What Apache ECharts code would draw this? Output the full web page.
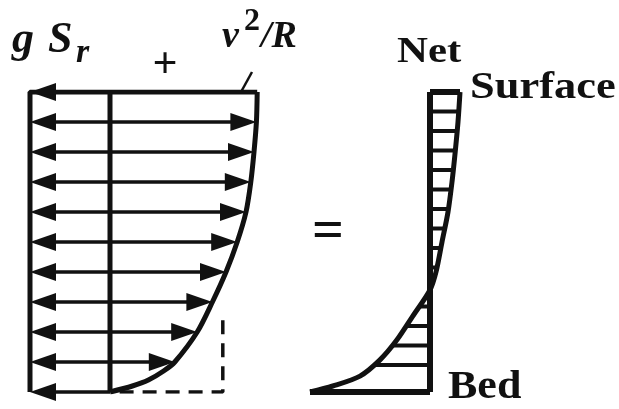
<!DOCTYPE html>
<html><head><meta charset="utf-8">
<script src="https://cdn.jsdelivr.net/npm/echarts@6/dist/echarts.min.js"></script>
<style>html,body{margin:0;padding:0;background:#fff}#c{width:619px;height:409px}</style>
</head><body><div id="c"></div>
<script>
// Height above bed: 0 = bed, 1 = surface
const rowHeights = [0, 0.1, 0.2, 0.3, 0.4, 0.5, 0.6, 0.7, 0.8, 0.9, 1.0];
// pressure-gradient term g*S_r (uniform with depth, points outward/left)
const gSr = [1, 1, 1, 1, 1, 1, 1, 1, 1, 1, 1];
// centrifugal term v^2/R profile (units of g*S_r)
const v2RHeights = [0, 0.02, 0.04, 0.07, 0.1, 0.2, 0.3, 0.4, 0.5, 0.6, 0.7, 0.8, 0.9, 1.0];
const v2R = [0, 0.28, 0.48, 0.67, 0.81, 1.09, 1.28, 1.45, 1.59, 1.70, 1.76, 1.80, 1.83, 1.84];
// depth-averaged (dashed) box
const dashedValue = 1.41;
const dashedTop = 0.26;
const dashedStart = 0.12;
// Net = v^2/R - g S_r profile
const netHeights = [0, 0.02, 0.053, 0.107, 0.173, 0.253, 0.34, 0.4, 0.5, 0.6, 0.7, 0.8, 0.9, 1.0];
const net = [-3.0, -2.43, -1.75, -1.25, -0.83, -0.43, 0, 0.15, 0.30, 0.45, 0.55, 0.63, 0.70, 0.75];
// hatch lines inside the net profile
const hatchHeights = [1.0, 0.935, 0.87, 0.805, 0.74, 0.675, 0.61, 0.545, 0.48, 0.415, 0.35, 0.285, 0.22, 0.155, 0.09, 0];
const hatchNet = [0.75, 0.72, 0.68, 0.63, 0.58, 0.53, 0.46, 0.37, 0.27, 0.15, 0, -0.27, -0.6, -0.95, -1.4, -3.0];

const INK = '#111';
const SERIF = '"Liberation Serif", "DejaVu Serif", serif';

const leftArrows = rowHeights.map((h, i) => [-gSr[i], h]);
const rightArrows = rowHeights
  .filter(h => h > 0 && h < 1)
  .map(h => [v2R[v2RHeights.indexOf(h)], h]);

function arrowItem(params, api) {
  const h = api.value(1), xv = api.value(0);
  const p0 = api.coord([0, h]), p1 = api.coord([xv, h]);
  const dir = Math.sign(p1[0] - p0[0]);
  const L = 26, W = 9;
  const base = p1[0] - dir * L;
  return {
    type: 'group', children: [
      { type: 'line', shape: { x1: p0[0], y1: p0[1], x2: base + dir * 2, y2: p1[1] }, style: { stroke: INK, lineWidth: 3.5 } },
      { type: 'polygon', shape: { points: [[p1[0], p1[1]], [base, p1[1] - W], [base, p1[1] + W]] }, style: { fill: INK } }
    ]
  };
}
function hatchItem(params, api) {
  const h = api.value(1), xv = api.value(0);
  const p0 = api.coord([0, h]), p1 = api.coord([xv, h]);
  const lw = (h === 1 || h === 0) ? 6 : 4;
  return { type: 'line', shape: { x1: p0[0], y1: p0[1], x2: p1[0], y2: p1[1] }, style: { stroke: INK, lineWidth: lw, lineCap: 'butt' } };
}

const chart = echarts.init(document.getElementById('c'), null, { renderer: 'canvas' });
const hidden = { show: false };
chart.setOption({
  backgroundColor: '#fff',
  animation: false,
  grid: [
    { left: 30, width: 240, top: 92, height: 300, containLabel: false },
    { left: 310, width: 160, top: 92, height: 300, containLabel: false }
  ],
  xAxis: [
    { type: 'value', gridIndex: 0, min: -1, max: 2, show: false, splitLine: hidden },
    { type: 'value', gridIndex: 1, min: -3, max: 1, show: false, splitLine: hidden }
  ],
  yAxis: [
    { type: 'value', gridIndex: 0, min: 0, max: 1, show: false, splitLine: hidden },
    { type: 'value', gridIndex: 1, min: 0, max: 1, show: false, splitLine: hidden }
  ],
  series: [
    // left panel frame lines
    { type: 'line', xAxisIndex: 0, yAxisIndex: 0, data: [[-1, 0], [-1, 1], [v2R[v2R.length - 1], 1]], symbol: 'none', lineStyle: { color: INK, width: 5 } },
    { type: 'line', xAxisIndex: 0, yAxisIndex: 0, data: [[0, 0], [0, 1]], symbol: 'none', lineStyle: { color: INK, width: 5 } },
    // dashed box
    { type: 'line', xAxisIndex: 0, yAxisIndex: 0, data: [[dashedStart, 0], [dashedValue, 0], [dashedValue, dashedTop]], symbol: 'none', lineStyle: { color: INK, width: 3.5, type: [14, 9] } },
    // v^2/R curve
    { type: 'line', xAxisIndex: 0, yAxisIndex: 0, data: v2RHeights.map((h, i) => [v2R[i], h]), symbol: 'none', smooth: 0.3, lineStyle: { color: INK, width: 5 } },
    // arrows
    { type: 'custom', xAxisIndex: 0, yAxisIndex: 0, data: leftArrows, renderItem: arrowItem, clip: false },
    { type: 'custom', xAxisIndex: 0, yAxisIndex: 0, data: rightArrows, renderItem: arrowItem, clip: false },
    // net panel
    { type: 'custom', xAxisIndex: 1, yAxisIndex: 1, data: hatchHeights.map((h, i) => [hatchNet[i], h]), renderItem: hatchItem, clip: false },
    { type: 'line', xAxisIndex: 1, yAxisIndex: 1, data: [[0, 0], [0, 1]], symbol: 'none', lineStyle: { color: INK, width: 6 } },
    { type: 'line', xAxisIndex: 1, yAxisIndex: 1, data: netHeights.map((h, i) => [net[i], h]), symbol: 'none', smooth: 0.3, lineStyle: { color: INK, width: 5 } }
  ],
  graphic: [
    { type: 'text', x: 12, y: 41, style: { text: 'g', font: 'italic bold 44px ' + SERIF, fill: INK, verticalAlign: 'middle' } },
    { type: 'text', x: 48, y: 41, style: { text: 'S', font: 'italic bold 44px ' + SERIF, fill: INK, verticalAlign: 'middle' } },
    { type: 'text', x: 76, y: 53, style: { text: 'r', font: 'italic bold 34px ' + SERIF, fill: INK, verticalAlign: 'middle' } },
    { type: 'text', x: 165, y: 66, style: { text: '+', font: 'bold 44px ' + SERIF, fill: INK, align: 'center', verticalAlign: 'middle' } },
    { type: 'text', x: 222, y: 37, style: { text: 'v', font: 'italic bold 38px ' + SERIF, fill: INK, verticalAlign: 'middle' } },
    { type: 'text', x: 244, y: 22, style: { text: '2', font: 'bold 32px ' + SERIF, fill: INK, verticalAlign: 'middle' } },
    { type: 'text', x: 261, y: 37, style: { text: '/R', font: 'italic bold 38px ' + SERIF, fill: INK, verticalAlign: 'middle' } },
    { type: 'line', shape: { x1: 241, y1: 92, x2: 252, y2: 72 }, style: { stroke: INK, lineWidth: 2.5 } },
    { type: 'text', x: 397, y: 53, scaleX: 1.19, style: { text: 'Net', font: 'bold 36px ' + SERIF, fill: INK, verticalAlign: 'middle' } },
    { type: 'text', x: 470, y: 88, scaleX: 1.17, style: { text: 'Surface', font: 'bold 38px ' + SERIF, fill: INK, verticalAlign: 'middle' } },
    { type: 'text', x: 328, y: 234, style: { text: '=', font: 'bold 56px ' + SERIF, fill: INK, align: 'center', verticalAlign: 'middle' } },
    { type: 'text', x: 448, y: 388, scaleX: 1.1, style: { text: 'Bed', font: 'bold 40px ' + SERIF, fill: INK, verticalAlign: 'middle' } }
  ]
});
</script></body></html>
